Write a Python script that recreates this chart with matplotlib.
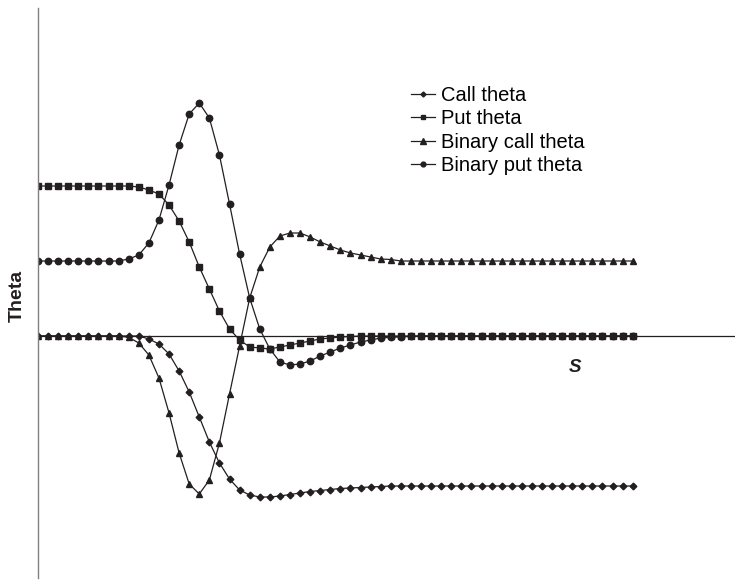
import matplotlib
matplotlib.use("Agg")
import matplotlib.pyplot as plt
import numpy as np

plt.rcParams['font.family'] = ['Liberation Sans', 'DejaVu Sans']

# Theta values (arbitrary units) for 60 equally spaced values of S
call_theta = [0.0] * 11 + [
    -0.03, -0.08, -0.18, -0.35, -0.56, -0.81, -1.06, -1.27, -1.43, -1.54,
    -1.59, -1.61, -1.61, -1.60, -1.585, -1.57, -1.555, -1.545, -1.535, -1.525,
    -1.52, -1.515, -1.51, -1.505, -1.50] + [-1.50] * 24

put_theta = [1.50] * 10 + [
    1.49, 1.46, 1.42, 1.31, 1.15, 0.94, 0.69, 0.47, 0.25, 0.07,
    -0.04, -0.11, -0.12, -0.13, -0.11, -0.09, -0.07, -0.05, -0.03, -0.02,
    -0.01, -0.005] + [0.0] * 28

binary_call_theta = [0.0] * 9 + [
    -0.013, -0.07, -0.19, -0.42, -0.77, -1.17, -1.48, -1.58, -1.44, -1.07,
    -0.58, -0.10, 0.38, 0.69, 0.89, 1.00, 1.03, 1.03, 0.99, 0.94,
    0.90, 0.86, 0.83, 0.81, 0.79, 0.77, 0.765] + [0.75] * 24

binary_put_theta = [0.75] * 9 + [
    0.77, 0.81, 0.93, 1.16, 1.51, 1.91, 2.22, 2.33, 2.18, 1.81,
    1.32, 0.82, 0.38, 0.07, -0.13, -0.26, -0.29, -0.28, -0.25, -0.20,
    -0.16, -0.12, -0.09, -0.06, -0.04, -0.02, -0.013, -0.008, -0.004] + [0.0] * 22

labels = ["Call theta", "Put theta", "Binary call theta", "Binary put theta"]

s = np.arange(len(call_theta))
ink = '#231f20'

fig = plt.figure(figsize=(7.35, 5.83), dpi=100)
ax = fig.add_axes([38 / 735, 5 / 583, 697 / 735, 570 / 583])

# series styles: marker and size
styles = [('D', 3.4), ('s', 4.5), ('^', 5.0), ('o', 4.6)]
series = [call_theta, put_theta, binary_call_theta, binary_put_theta]
for vals, (mk, ms), lab in zip(series, styles, labels):
    ax.plot(s, vals, color=ink, lw=0.9, marker=mk, ms=ms,
            mfc=ink, mec=ink, label=lab)

ax.axhline(0, color=ink, lw=0.9, zorder=0)

ax.set_xlim(0, 697 / 10.08)
ax.set_ylim(-2.42, 3.28)
for side in ['top', 'right', 'bottom']:
    ax.spines[side].set_visible(False)
ax.spines['left'].set_color('#808080')
ax.spines['left'].set_linewidth(1.0)
ax.set_xticks([])
ax.set_yticks([])

fig.text(17 / 735, 1 - 296 / 583, 'Theta', rotation=90, ha='center',
         va='center', fontsize=14, fontweight='bold', color=ink)
fig.text(575 / 735, 1 - 367 / 583, 'S', ha='center', va='center',
         fontsize=13.5, fontweight='bold', fontstyle='italic', color=ink)

ax.legend(loc='upper left', bbox_to_anchor=(411 / 735, 1 - 86 / 583),
          bbox_transform=fig.transFigure, frameon=False, fontsize=14.5,
          borderpad=0, borderaxespad=0, handlelength=1.2, handletextpad=0.3,
          labelspacing=0.22, markerscale=0.75)

fig.savefig('out.png', dpi=100)
